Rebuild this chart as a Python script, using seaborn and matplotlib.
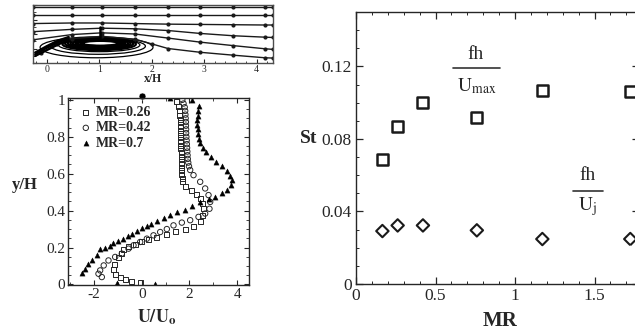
import matplotlib
matplotlib.use("Agg")
import matplotlib.pyplot as plt
import seaborn as sns
from matplotlib.patches import Ellipse
from matplotlib.ticker import MultipleLocator

# ---------------- data: right panel (St vs MR) ----------------
mr = [0.166, 0.262, 0.421, 0.760, 1.172, 1.725]
st_umax = [0.0689, 0.0866, 0.0999, 0.0917, 0.1068, 0.1059]
st_uj = [0.0292, 0.0323, 0.0323, 0.0296, 0.0248, 0.0248]
st_xticks = [0, 0.5, 1, 1.5]
st_xticklabels = ["0", "0.5", "1", "1.5"]
st_yticks = [0, 0.04, 0.08, 0.12]
st_yticklabels = ["0", "0.04", "0.08", "0.12"]

# ---------------- data: velocity profiles ----------------
u_026 = [-0.07, -0.42, -0.70, -0.91, -1.12, -1.19, -1.16, -0.98, -0.84, -0.77,
         -0.56, -0.28, 0.00, 0.28, 0.63, 1.05, 1.40, 1.82, 2.17, 2.45,
         2.55, 2.60, 2.55, 2.45, 2.31, 2.10, 1.85, 1.72, 1.70, 1.68,
         1.67, 1.66, 1.66, 1.65, 1.65, 1.65, 1.64, 1.64, 1.64, 1.63,
         1.63, 1.63, 1.62, 1.62, 1.61, 1.60, 1.58, 1.52, 1.45]
y_026 = [0.010, 0.018, 0.027, 0.035, 0.054, 0.080, 0.108, 0.144, 0.167, 0.190,
         0.207, 0.216, 0.234, 0.243, 0.252, 0.270, 0.285, 0.295, 0.315, 0.342,
         0.375, 0.410, 0.440, 0.468, 0.488, 0.510, 0.530, 0.555, 0.575, 0.595,
         0.615, 0.635, 0.655, 0.675, 0.695, 0.715, 0.735, 0.755, 0.775, 0.795,
         0.815, 0.835, 0.855, 0.875, 0.895, 0.915, 0.940, 0.965, 0.990]

u_042 = [-1.68, -1.82, -1.75, -1.60, -1.40, -1.12, -0.84, -0.56, -0.35, -0.07,
         0.21, 0.49, 0.77, 1.05, 1.33, 1.68, 2.03, 2.38, 2.66, 2.84,
         2.87, 2.80, 2.66, 2.45, 2.17, 2.03, 1.98, 1.95, 1.93, 1.92,
         1.91, 1.90, 1.89, 1.88, 1.87, 1.86, 1.86, 1.85, 1.85, 1.84,
         1.83, 1.82, 1.80, 1.75, 1.70]
y_042 = [0.040, 0.058, 0.076, 0.103, 0.130, 0.149, 0.167, 0.194, 0.212, 0.230,
         0.248, 0.266, 0.284, 0.300, 0.320, 0.335, 0.348, 0.366, 0.384, 0.410,
         0.447, 0.484, 0.520, 0.556, 0.592, 0.620, 0.640, 0.660, 0.680, 0.700,
         0.720, 0.740, 0.760, 0.780, 0.800, 0.820, 0.840, 0.860, 0.880, 0.900,
         0.920, 0.940, 0.960, 0.980, 1.000]

u_070 = [-1.05, 0.56, -2.52, -2.38, -2.24, -2.10, -1.89, -1.75, -1.55, -1.35,
         -1.19, -1.00, -0.80, -0.60, -0.40, -0.20, 0.00, 0.20, 0.40, 0.63,
         0.91, 1.19, 1.47, 1.82, 2.10, 2.45, 2.80, 3.08, 3.35, 3.57,
         3.75, 3.78, 3.72, 3.57, 3.35, 3.10, 2.90, 2.70, 2.55, 2.45,
         2.40, 2.36, 2.34, 2.33, 2.33, 2.34, 2.36, 2.38, 2.10, 1.20]
y_070 = [0.010, 0.000, 0.060, 0.085, 0.110, 0.135, 0.162, 0.190, 0.200, 0.210,
         0.222, 0.235, 0.248, 0.262, 0.275, 0.290, 0.305, 0.318, 0.330, 0.345,
         0.360, 0.375, 0.390, 0.405, 0.425, 0.445, 0.462, 0.475, 0.495, 0.512,
         0.540, 0.565, 0.590, 0.615, 0.640, 0.665, 0.690, 0.715, 0.740, 0.765,
         0.790, 0.815, 0.840, 0.865, 0.890, 0.915, 0.940, 0.965, 1.000, 1.010]
prof_labels = ["MR=0.26", "MR=0.42", "MR=0.7"]

# ---------------- data: streamlines (x/H, normalised height) ----------------
sl_x = [-0.26, 0.48, 1.05, 1.68, 2.31, 2.92, 3.55, 4.16, 4.31]
sl1_y = [0.97, 0.97, 0.97, 0.97, 0.97, 0.97, 0.97, 0.97, 0.97]
sl2_y = [0.83, 0.83, 0.83, 0.83, 0.83, 0.83, 0.83, 0.83, 0.83]
sl3_y = [0.68, 0.69, 0.69, 0.68, 0.67, 0.665, 0.66, 0.655, 0.655]
sl4_y = [0.54, 0.58, 0.60, 0.59, 0.56, 0.51, 0.47, 0.445, 0.44]
sl5_y = [0.40, 0.49, 0.52, 0.50, 0.43, 0.36, 0.30, 0.245, 0.235]
sl6_x = [-0.10, 0.20, 0.48, 1.05, 1.68, 2.00, 2.31, 2.92, 3.55, 4.16, 4.31]
sl6_y = [0.17, 0.33, 0.42, 0.46, 0.41, 0.33, 0.25, 0.185, 0.135, 0.09, 0.085]
jet_x = [-0.22, 0.00, 0.20, 0.42]
jet1_y = [0.18, 0.29, 0.38, 0.45]
jet2_y = [0.15, 0.26, 0.35, 0.43]
jet3_y = [0.12, 0.22, 0.31, 0.40]
vort_cx = [0.95, 0.98, 1.00, 1.00, 1.00, 1.00, 1.00, 1.00, 1.01, 1.01, 1.02, 1.02]
vort_cy = [0.27, 0.29, 0.31, 0.325, 0.335, 0.34, 0.34, 0.34, 0.34, 0.34, 0.34, 0.34]
vort_w = [2.15, 1.80, 1.55, 1.40, 1.30, 1.20, 1.10, 1.00, 0.92, 0.84, 0.76, 0.68]
vort_h = [0.36, 0.28, 0.23, 0.21, 0.19, 0.17, 0.155, 0.14, 0.125, 0.11, 0.095, 0.08]

# ---------------- style ----------------
sns.set_style("ticks")
plt.rcParams["font.family"] = ["Liberation Serif", "DejaVu Serif"]
plt.rcParams["mathtext.fontset"] = "stix"
plt.rcParams["axes.linewidth"] = 1.0
plt.rcParams["axes.unicode_minus"] = False

W, H = 635, 335
fig = plt.figure(figsize=(6.35, 3.35), dpi=100)


def px_axes(left, top, right, bottom):
    return fig.add_axes([left / W, 1 - bottom / H, (right - left) / W, (bottom - top) / H])


# ================= top panel: streamlines =================
ax_t = px_axes(33, 5, 273, 63)
for ys in (sl1_y, sl2_y, sl3_y, sl4_y, sl5_y):
    sns.lineplot(x=sl_x, y=ys, sort=False, estimator=None, color="0.1", lw=1.0,
                 marker="o", markersize=3, markeredgewidth=0, ax=ax_t)
sns.lineplot(x=sl6_x, y=sl6_y, sort=False, estimator=None, color="0.1", lw=1.0,
             marker="o", markersize=3, markeredgewidth=0, ax=ax_t)
for ys in (jet1_y, jet2_y, jet3_y):
    sns.lineplot(x=jet_x, y=ys, sort=False, estimator=None, color="k", lw=1.6, ax=ax_t)
for i, (cx, cy, w, h) in enumerate(zip(vort_cx, vort_cy, vort_w, vort_h)):
    ax_t.add_patch(Ellipse((cx, cy), w, h, fill=False, ec="k",
                           lw=0.9 if i < 3 else 1.5))
sns.lineplot(x=[1.02, 1.02], y=[0.44, 0.62], sort=False, estimator=None,
             color="k", lw=1.8, ax=ax_t)
ax_t.set_xlim(-0.26, 4.31)
ax_t.set_ylim(0, 1)
ax_t.set_xticks([0, 1, 2, 3, 4])
ax_t.xaxis.set_minor_locator(MultipleLocator(0.2))
ax_t.set_yticks([0, 0.25, 0.5, 0.75, 1.0])
ax_t.yaxis.set_minor_locator(MultipleLocator(0.125))
ax_t.set_yticklabels([])
ax_t.tick_params(direction="in", labelsize=7, pad=1.5, length=3, width=0.8)
ax_t.tick_params(which="minor", direction="in", length=1.8, width=0.6)
ax_t.set_xlabel("x/H", fontsize=8.5, fontweight="bold", labelpad=-1)
ax_t.set_ylabel("")
for s in ax_t.spines.values():
    s.set_color("0.3")

# ================= bottom-left: velocity profiles =================
ax_p = px_axes(68, 98, 249, 285)
sns.scatterplot(x=u_026, y=y_026, marker="s", s=13, facecolor="none", edgecolor="0.15",
                linewidth=0.7, label=prof_labels[0], ax=ax_p)
sns.scatterplot(x=u_042, y=y_042, marker="o", s=15, facecolor="none", edgecolor="0.15",
                linewidth=0.7, label=prof_labels[1], ax=ax_p)
sns.scatterplot(x=u_070, y=y_070, marker="^", s=14, color="k", edgecolor="k",
                linewidth=0.3, label=prof_labels[2], ax=ax_p)
sns.scatterplot(x=[0.0], y=[1.02], marker="o", s=25, color="k", ax=ax_p, clip_on=False)
ax_p.set_xlim(-3.1, 4.5)
ax_p.set_ylim(-0.003, 1.01)
ax_p.set_xticks([-2, 0, 2, 4])
ax_p.xaxis.set_minor_locator(MultipleLocator(1))
ax_p.set_yticks([0, 0.2, 0.4, 0.6, 0.8, 1.0])
ax_p.set_yticklabels(["0", "0.2", "0.4", "0.6", "0.8", "1"])
ax_p.yaxis.set_minor_locator(MultipleLocator(0.05))
ax_p.tick_params(direction="in", top=True, right=True, labelsize=11, pad=2,
                 length=3.5, width=0.8)
ax_p.tick_params(which="minor", direction="in", top=True, right=True, length=2, width=0.6)
ax_p.set_xlabel(r"$\mathbf{U/U}_{\mathbf{o}}$", fontsize=13)
ax_p.xaxis.set_label_coords(0.49, -0.12)
ax_p.set_ylabel("y/H", fontsize=12, fontweight="bold", rotation=0, va="center", ha="center")
ax_p.yaxis.set_label_coords(-0.24, 0.535)
ax_p.legend(loc="upper left", bbox_to_anchor=(0.06, 0.955), frameon=False,
            prop={"weight": "bold", "size": 10}, handletextpad=0.2,
            labelspacing=0.15, borderaxespad=0, handlelength=1.0, borderpad=0)

# ================= right: Strouhal numbers =================
ax_r = px_axes(356, 12, 356 + 1.78 * 159, 284)
sns.scatterplot(x=mr, y=st_umax, marker="s", s=62, facecolor="none", edgecolor="0.1",
                linewidth=1.8, ax=ax_r)
sns.scatterplot(x=mr, y=st_uj, marker="D", s=40, facecolor="none", edgecolor="0.1",
                linewidth=1.5, ax=ax_r)
ax_r.set_xlim(0, 1.78)
ax_r.set_ylim(0, 0.15)
ax_r.set_xticks(st_xticks)
ax_r.set_xticklabels(st_xticklabels)
ax_r.set_yticks(st_yticks)
ax_r.set_yticklabels(st_yticklabels)
ax_r.xaxis.set_minor_locator(MultipleLocator(0.1))
ax_r.yaxis.set_minor_locator(MultipleLocator(0.01))
ax_r.tick_params(direction="in", top=True, right=True, labelsize=12.5, pad=3,
                 length=5, width=0.9)
ax_r.tick_params(which="minor", direction="in", top=True, right=True, length=2.5, width=0.7)
ax_r.set_xlabel("MR", fontsize=15, fontweight="bold", va="center")
ax_r.xaxis.set_label_coords((500 - 356) / (1.78 * 159), -0.135)
ax_r.set_ylabel("St", fontsize=14, fontweight="bold", rotation=0, ha="right", va="center")
ax_r.yaxis.set_label_coords(-0.135, 0.08 / 0.15)

# fraction annotations
ax_r.text(0.753, 0.1264, "fh", fontsize=14, ha="center", va="center")
ax_r.plot([0.608, 0.906], [0.119, 0.119], color="0.2", lw=1.2)
ax_r.text(0.757, 0.109, r"$\mathrm{U}_{\mathrm{max}}$", fontsize=14, ha="center", va="center")
ax_r.text(1.455, 0.0597, "fh", fontsize=14, ha="center", va="center")
ax_r.plot([1.367, 1.551], [0.0515, 0.0515], color="0.2", lw=1.2)
ax_r.text(1.455, 0.0425, r"$\mathrm{U}_{\mathrm{j}}$", fontsize=14, ha="center", va="center")

fig.savefig("out.png", dpi=100)
